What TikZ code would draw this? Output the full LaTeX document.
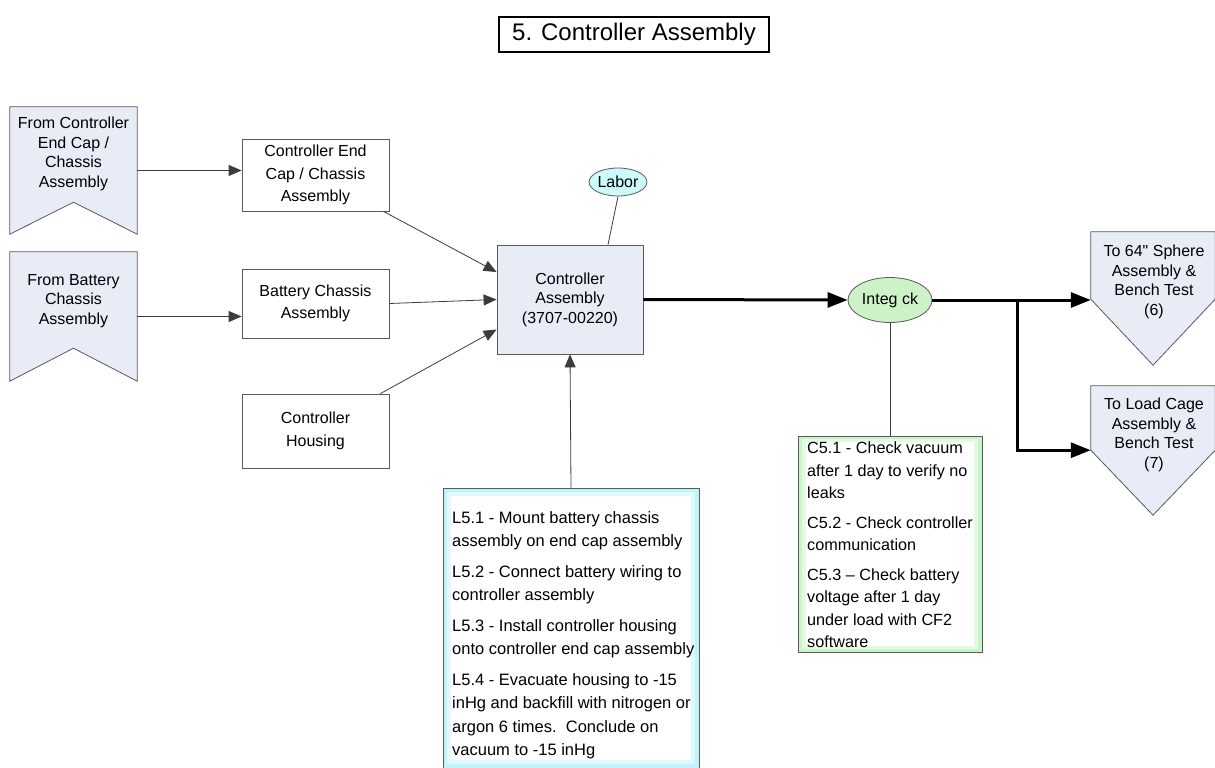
\documentclass[tikz,border=0pt]{standalone}
\usepackage{fontspec}
\setmainfont{Liberation Sans}
\usetikzlibrary{arrows.meta,calc,shapes.geometric}

\definecolor{boxline}{RGB}{90,90,90}
\definecolor{wire}{RGB}{60,60,60}
\definecolor{partfill}{RGB}{232,236,247}
\definecolor{laborfill}{RGB}{204,250,250}
\definecolor{checkfill}{RGB}{206,242,200}
\definecolor{labband}{RGB}{190,244,250}
\definecolor{chkband}{RGB}{200,245,200}

\tikzset{
  partbox/.style={draw=boxline, line width=0.8pt, fill=white, minimum width=147pt,
    align=center, inner sep=0pt, font=\fontsize{16}{22.5}\selectfont},
  subbox/.style={draw=boxline, line width=0.8pt, fill=partfill, align=center, inner sep=0pt,
    font=\fontsize{16}{19.5}\selectfont},
  shapebox/.style={draw=none, inner sep=0pt},
  label/.style={align=center, inner sep=0pt, font=\fontsize{16}{19.5}\selectfont},
  outline/.style={draw=boxline, line width=0.8pt, fill=partfill},
  oval/.style={ellipse, draw=boxline, line width=0.8pt, inner sep=0pt, font=\fontsize{16}{19}\selectfont},
  notes/.style={align=left, inner sep=0pt, anchor=north west},
  thin/.style={draw=wire, line width=0.8pt},
  feed/.style={thin, -{Triangle[length=13pt,width=11pt]}},
  flow/.style={draw=black, line width=3pt, -{Triangle[length=20pt,width=15pt]}},
}

\begin{document}
\begin{tikzpicture}[x=1pt,y=-1pt]
\useasboundingbox (0,0) rectangle (1215,768);
\clip (0,0) rectangle (1215,768);
\fill[white] (0,0) rectangle (1215,768);

% title
\node[draw=black, line width=1.5pt, minimum width=270pt, minimum height=35pt, inner sep=0pt,
  font=\fontsize{24}{28}\selectfont] (title) at (634,34.5) {5. Controller Assembly};

% incoming banners
\node[shapebox, minimum width=127pt, minimum height=127pt] (src1) at (73.5,170.5) {};
\draw[outline] (src1.north west) -- (src1.north east) -- (src1.south east)
  -- ($(src1.south)+(0,-32)$) -- (src1.south west) -- cycle;
\node[label] (src1t) at (73.5,154) {From Controller\\End Cap /\\Chassis\\Assembly};

\node[shapebox, minimum width=127pt, minimum height=129pt] (src2) at (73.5,316.5) {};
\draw[outline] (src2.north west) -- (src2.north east) -- (src2.south east)
  -- ($(src2.south)+(0,-33)$) -- (src2.south west) -- cycle;
\node[label] (src2t) at (73.5,301) {From Battery\\Chassis\\Assembly};

% parts
\node[partbox, minimum height=72pt] (box1) at (315.5,175) {Controller End\\Cap / Chassis\\Assembly};
\node[partbox, minimum height=69pt] (box2) at (315.5,303.5) {Battery Chassis\\Assembly};
\node[partbox, minimum height=74pt] (box3) at (315.5,431) {Controller\\Housing};

% sub-assembly
\node[subbox, minimum width=146pt, minimum height=109pt] (ctrl) at (570,299.5)
  {Controller\\Assembly\\(3707-00220)};

\node[oval, fill=laborfill, minimum width=54pt, minimum height=28pt] (labor) at (618,182) {Labor};
\node[oval, fill=checkfill, minimum width=84pt, minimum height=45pt] (integ) at (890,300) {Integ ck};

% outgoing pentagons
\node[shapebox, minimum width=124pt, minimum height=67pt] (dst1) at (1153,265.5) {};
\draw[outline] (dst1.north west) -- (dst1.north east) -- (dst1.south east)
  -- ($(dst1.south)+(0,66)$) -- (dst1.south west) -- cycle;
\node[label] (dst1t) at (1154,282) {To 64\textquotedbl{} Sphere\\Assembly \&\\Bench Test\\(6)};

\node[shapebox, minimum width=124pt, minimum height=64pt] (dst2) at (1153,418) {};
\draw[outline] (dst2.north west) -- (dst2.north east) -- (dst2.south east)
  -- ($(dst2.south)+(0,65)$) -- (dst2.south west) -- cycle;
\node[label] (dst2t) at (1154,435) {To Load Cage\\Assembly \&\\Bench Test\\(7)};

% labor steps
\node[draw=boxline, line width=0.8pt, fill=labband, minimum width=256pt, minimum height=280pt,
  inner sep=0pt] (lbox) at (571,628) {};
\fill[labband!50!white] ($(lbox.north west)+(4,4)$) rectangle ($(lbox.south east)+(-4,-4)$);
\fill[white] ($(lbox.north west)+(8,8)$) rectangle ($(lbox.south east)+(-8,-8)$);
\node[notes, font=\fontsize{16.5}{23.5}\selectfont] (ltext) at (452,511) {%
L5.1 - Mount battery chassis\\assembly on end cap assembly\\[7pt]
L5.2 - Connect battery wiring to\\controller assembly\\[7pt]
L5.3 - Install controller housing\\onto controller end cap assembly\\[7pt]
L5.4 - Evacuate housing to -15\\inHg and backfill with nitrogen or\\argon 6 times.\ \ Conclude on\\vacuum to -15 inHg};

% check steps
\node[draw=boxline, line width=0.8pt, fill=chkband, minimum width=184pt, minimum height=216pt,
  inner sep=0pt] (cbox) at (890,544) {};
\fill[chkband!50!white] ($(cbox.north west)+(4,3)$) rectangle ($(cbox.south east)+(-4,-3)$);
\fill[white] ($(cbox.north west)+(8,6)$) rectangle ($(cbox.south east)+(-8,-6)$);
\node[notes, font=\fontsize{16.2}{22.5}\selectfont] (ctext) at (807,442) {%
C5.1 - Check vacuum\\after 1 day to verify no\\leaks\\[7pt]
C5.2 - Check controller\\communication\\[7pt]
C5.3 -- Check battery\\voltage after 1 day\\under load with CF2\\software};

% connectors
\draw[feed] (src1.east) -- (src1.east -| box1.west);
\draw[feed] (src2.east) -- (src2.east -| box2.west);
\draw[feed] ($(box1.south east)+(-6,0)$) -- ($(ctrl.west)+(0,-27.5)$);
\draw[feed] (box2.east) -- (ctrl.west);
\draw[feed] ($(box3.north east)+(-9,0)$) -- ($(ctrl.west)+(0,30)$);
\draw[thin] (labor.south) -- ($(ctrl.north)+(38,0)$);
\draw[feed] (lbox.north) -- (ctrl.south);
\draw[flow] (ctrl.east) -- (integ.west);
\draw[thin] (integ.south) -- (cbox.north);
\coordinate (split) at (1017,300);
\draw[flow] (integ.east) -- (integ.east -| dst1.west);
\draw[flow] (split) |- (dst2.south west);
\end{tikzpicture}
\end{document}
